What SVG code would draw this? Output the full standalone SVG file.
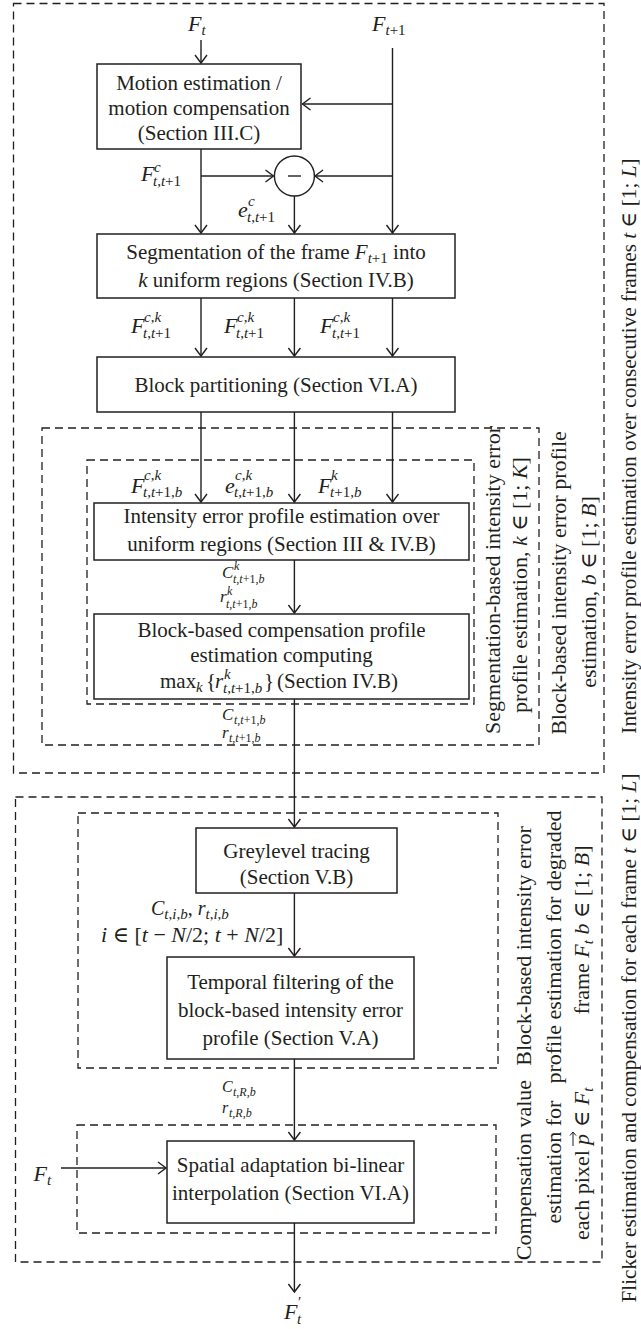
<svg xmlns="http://www.w3.org/2000/svg" width="641" height="1329" viewBox="0 0 641 1329">
<style>
text { font-family: "Liberation Serif", "DejaVu Serif", serif; fill: #231f20; }
.bt { font-size: 21px; text-anchor: middle; }
.rt { font-size: 22px; text-anchor: middle; }
.ro { font-size: 21.3px; text-anchor: middle; }
.rs { font-size: 22px; text-anchor: start; }
.i { font-style: italic; }
.u { font-style: normal; }
.lbl { font-size: 22px; font-style: italic; }
.s { font-size: 15px; }
.sm { font-size: 17px; font-style: italic; }
.ss { font-size: 12px; }
.box { fill: #fff; stroke: #231f20; stroke-width: 1.5; }
.dash { fill: none; stroke: #231f20; stroke-width: 1.3; stroke-dasharray: 8 5; }
.conn path { stroke: #231f20; stroke-width: 1.4; fill: none; }
.arr { marker-end: url(#ah); }
</style>
<defs>
<marker id="ah" markerWidth="20" markerHeight="20" viewBox="-10 -10 20 20" refX="0" refY="0" orient="auto" markerUnits="userSpaceOnUse">
<path d="M-8,-6 L0,0 L-8,6" fill="none" stroke="#231f20" stroke-width="1.4"/>
</marker>
</defs>
<rect width="641" height="1329" fill="#fff"/>

<g id="groups">
<rect id="g-outer-top" class="dash" x="13.5" y="3.5" width="590.5" height="769.5"/>
<rect id="g-seg" class="dash" x="42" y="428" width="497" height="317"/>
<rect id="g-inner" class="dash" x="87" y="460" width="387" height="244"/>
<rect id="g-outer-bot" class="dash" x="15.5" y="797" width="586.5" height="465"/>
<rect id="g-block" class="dash" x="78" y="813" width="420" height="255"/>
<rect id="g-comp" class="dash" x="77" y="1125" width="419" height="108"/>
</g>

<g id="connectors" class="conn">
<path class="arr" d="M201,40 V63"/>
<path class="arr" d="M392.5,48 V233"/>
<path class="arr" d="M392.5,104 H302.5"/>
<path class="arr" d="M201,149 V233"/>
<path class="arr" d="M201,176 H273.5"/>
<path class="arr" d="M392.5,176 H315"/>
<path class="arr" d="M294.4,196 V233"/>
<path class="arr" d="M201,298 V356"/>
<path class="arr" d="M294.4,298 V356"/>
<path class="arr" d="M392.5,298 V356"/>
<path class="arr" d="M201,412 V502"/>
<path class="arr" d="M294.4,412 V502"/>
<path class="arr" d="M392.5,412 V502"/>
<path class="arr" d="M294.4,560 V613"/>
<path class="arr" d="M294.4,699 V827"/>
<path class="arr" d="M294.4,893 V956"/>
<path class="arr" d="M294.4,1059 V1140"/>
<path class="arr" d="M61,1168 H166"/>
<path class="arr" d="M294.4,1223 V1292"/>
</g>

<g id="n-minus">
<circle cx="294.4" cy="176" r="20" fill="#fff" stroke="#231f20" stroke-width="1.4"/>
<path d="M288,176 H301" stroke="#231f20" stroke-width="1.4"/>
</g>

<g id="n-motion">
<rect class="box" x="97" y="64" width="204" height="85"/>
<text class="bt" x="199" y="90">Motion estimation /</text>
<text class="bt" x="199" y="115">motion compensation</text>
<text class="bt" x="199" y="140">(Section III.C)</text>
</g>

<g id="n-seg">
<rect class="box" x="97" y="234" width="358" height="64"/>
<text class="bt" x="276" y="259">Segmentation of the frame <tspan class="i">F</tspan><tspan class="s" dy="4"><tspan class="i">t</tspan>+1</tspan><tspan dy="-4"> into</tspan></text>
<text class="bt" x="276" y="287"><tspan class="i">k</tspan> uniform regions (Section IV.B)</text>
</g>

<g id="n-block">
<rect class="box" x="97" y="357" width="358" height="55"/>
<text class="bt" x="276" y="392">Block partitioning (Section VI.A)</text>
</g>

<g id="n-intensity">
<rect class="box" x="94" y="503" width="375" height="57"/>
<text class="bt" x="281.5" y="523">Intensity error profile estimation over</text>
<text class="bt" x="281.5" y="551">uniform regions (Section III &amp; IV.B)</text>
</g>

<g id="n-comp">
<rect class="box" x="94" y="614" width="375" height="85"/>
<text class="bt" x="281.5" y="637">Block-based compensation profile</text>
<text class="bt" x="281.5" y="662">estimation computing</text>
<text style="font-size:21px" x="160" y="688">max</text>
<text class="s i" x="196" y="692">k</text>
<text style="font-size:21px" x="206" y="688">{</text>
<text class="lbl" style="font-size:21px" x="215" y="688">r</text>
<text class="s i" x="224" y="679">k</text>
<text class="s" x="223" y="693"><tspan class="i">t</tspan>,<tspan class="i">t</tspan>+1,<tspan class="i">b</tspan></text>
<text style="font-size:21px" x="264" y="688">}</text>
<text style="font-size:21px" x="277" y="688">(Section IV.B)</text>
</g>

<g id="n-grey">
<rect class="box" x="196" y="828" width="201" height="65"/>
<text class="bt" x="296.5" y="858">Greylevel tracing</text>
<text class="bt" x="296.5" y="884">(Section V.B)</text>
</g>

<g id="n-temporal">
<rect class="box" x="167" y="957" width="247" height="102"/>
<text class="bt" x="290.5" y="989">Temporal filtering of the</text>
<text class="bt" x="290.5" y="1017">block-based intensity error</text>
<text class="bt" x="290.5" y="1045">profile (Section V.A)</text>
</g>

<g id="n-spatial">
<rect class="box" x="167" y="1141" width="247" height="82"/>
<text class="bt" x="290.5" y="1172">Spatial adaptation bi-linear</text>
<text class="bt" x="290.5" y="1200">interpolation (Section VI.A)</text>
</g>

<g id="labels">
<text class="lbl" x="188" y="31">F<tspan class="s" dy="4">t</tspan></text>
<text class="lbl" x="372" y="31">F<tspan class="s" dy="4">t<tspan class="u">+1</tspan></tspan></text>

<text class="lbl" x="141" y="181">F</text>
<text class="s i" x="154" y="172">c</text>
<text class="s" x="153" y="186"><tspan class="i">t</tspan>,<tspan class="i">t</tspan>+1</text>

<text class="lbl" x="238" y="217">e</text>
<text class="s i" x="248" y="206">c</text>
<text class="s" x="247" y="222"><tspan class="i">t</tspan>,<tspan class="i">t</tspan>+1</text>

<text class="lbl" x="131" y="333">F</text>
<text class="s i" x="144" y="322">c<tspan class="u">,</tspan>k</text>
<text class="s" x="143" y="338"><tspan class="i">t</tspan>,<tspan class="i">t</tspan>+1</text>
<text class="lbl" x="224" y="333">F</text>
<text class="s i" x="237" y="322">c<tspan class="u">,</tspan>k</text>
<text class="s" x="236" y="338"><tspan class="i">t</tspan>,<tspan class="i">t</tspan>+1</text>
<text class="lbl" x="320" y="333">F</text>
<text class="s i" x="333" y="322">c<tspan class="u">,</tspan>k</text>
<text class="s" x="332" y="338"><tspan class="i">t</tspan>,<tspan class="i">t</tspan>+1</text>

<text class="lbl" x="131" y="493">F</text>
<text class="s i" x="144" y="480">c<tspan class="u">,</tspan>k</text>
<text class="s" x="143" y="497"><tspan class="i">t</tspan>,<tspan class="i">t</tspan>+1,<tspan class="i">b</tspan></text>
<text class="lbl" x="225" y="493">e</text>
<text class="s i" x="235" y="480">c<tspan class="u">,</tspan>k</text>
<text class="s" x="234" y="497"><tspan class="i">t</tspan>,<tspan class="i">t</tspan>+1,<tspan class="i">b</tspan></text>
<text class="lbl" x="318" y="493">F</text>
<text class="s i" x="331" y="480">k</text>
<text class="s" x="330" y="497"><tspan class="i">t</tspan>+1,<tspan class="i">b</tspan></text>

<text class="sm" x="222" y="578">C</text>
<text class="ss i" x="234" y="570">k</text>
<text class="ss" x="233" y="583"><tspan class="i">t</tspan>,<tspan class="i">t</tspan>+1,<tspan class="i">b</tspan></text>
<text class="sm" x="220" y="602">r</text>
<text class="ss i" x="227" y="595">k</text>
<text class="ss" x="226" y="608"><tspan class="i">t</tspan>,<tspan class="i">t</tspan>+1,<tspan class="i">b</tspan></text>

<text class="sm" x="222" y="720">C</text>
<text class="ss" x="234" y="724"><tspan class="i">t</tspan>,<tspan class="i">t</tspan>+1,<tspan class="i">b</tspan></text>
<text class="sm" x="222" y="738">r</text>
<text class="ss" x="229" y="742"><tspan class="i">t</tspan>,<tspan class="i">t</tspan>+1,<tspan class="i">b</tspan></text>

<text class="lbl" style="font-size:20px" x="151" y="915">C<tspan class="s" dy="4">t<tspan class="u">,</tspan>i<tspan class="u">,</tspan>b</tspan><tspan class="u" dy="-4">, </tspan>r<tspan class="s" dy="4">t<tspan class="u">,</tspan>i<tspan class="u">,</tspan>b</tspan></text>
<text style="font-size:22px" x="101" y="942"><tspan class="i">i</tspan> ∈ [<tspan class="i">t</tspan> − <tspan class="i">N</tspan>/2; <tspan class="i">t</tspan> + <tspan class="i">N</tspan>/2]</text>

<text class="sm" style="font-size:16px" x="222" y="1092">C</text>
<text class="ss" x="233" y="1096"><tspan class="i">t</tspan>,<tspan class="i">R</tspan>,<tspan class="i">b</tspan></text>
<text class="sm" style="font-size:16px" x="222" y="1113">r</text>
<text class="ss" x="229" y="1117"><tspan class="i">t</tspan>,<tspan class="i">R</tspan>,<tspan class="i">b</tspan></text>

<text class="lbl" x="33.5" y="1181">F<tspan class="s" dy="4">t</tspan></text>

<text class="lbl" x="284" y="1319">F</text>
<text style="font-size:15px" x="298" y="1307">′</text>
<text class="s i" x="297" y="1324">t</text>
</g>

<g id="side-labels">
<text class="rt" transform="translate(500,580) rotate(-90)">Segmentation-based intensity error</text>
<text class="rt" transform="translate(527,585) rotate(-90)">profile estimation, <tspan class="i">k</tspan> ∈ [1; <tspan class="i">K</tspan>]</text>
<text class="rt" transform="translate(566,583) rotate(-90)">Block-based intensity error profile</text>
<text class="rt" transform="translate(596,592) rotate(-90)">estimation, <tspan class="i">b</tspan> ∈ [1; <tspan class="i">B</tspan>]</text>
<text class="ro" transform="translate(636,446) rotate(-90)">Intensity error profile estimation over consecutive frames <tspan class="i">t</tspan> ∈ [1; <tspan class="i">L</tspan>]</text>

<text class="rt" transform="translate(531,946) rotate(-90)">Block-based intensity error</text>
<text class="rt" transform="translate(561,947) rotate(-90)">profile estimation for degraded</text>
<text class="rt" transform="translate(589,930) rotate(-90)">frame <tspan class="i">F</tspan><tspan class="s i" dy="4">t</tspan><tspan dy="-4"> </tspan><tspan class="i">b</tspan> ∈ [1; <tspan class="i">B</tspan>]</text>
<text class="rt" transform="translate(531,1170) rotate(-90)">Compensation value</text>
<text class="rt" transform="translate(561,1162) rotate(-90)">estimation for</text>
<g transform="translate(589,1165) rotate(-90)">
<text class="rs" x="-75" y="0">each pixel</text>
<text class="rs i" x="20" y="0">p</text>
<path d="M19,-16 H33 M29.5,-19 L33,-16 L29.5,-13" fill="none" stroke="#231f20" stroke-width="1"/>
<text class="rs" x="38" y="0">∈ <tspan class="i">F</tspan><tspan class="s i" dy="4">t</tspan></text>
</g>
<text class="ro" transform="translate(636,1038) rotate(-90)">Flicker estimation and compensation for each frame <tspan class="i">t</tspan> ∈ [1; <tspan class="i">L</tspan>]</text>
</g>
</svg>
